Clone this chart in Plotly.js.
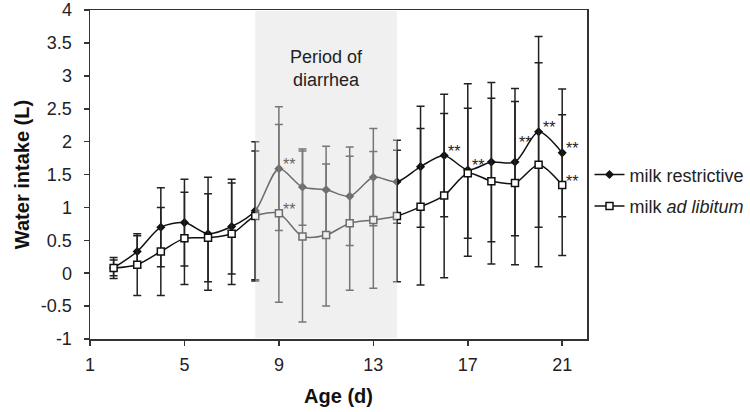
<!DOCTYPE html>
<html>
<head>
<meta charset="utf-8">
<script src="https://cdn.plot.ly/plotly-3.0.1.min.js"></script>
<style>html,body{margin:0;padding:0;background:#fff;}#chart{width:750px;height:412px;}</style>
</head>
<body>
<div id="chart"></div>
<script>
var days = [2,3,4,5,6,7,8,9,10,11,12,13,14,15,16,17,18,19,20,21];
var restrictive = [0.08,0.33,0.70,0.77,0.60,0.71,0.95,1.59,1.31,1.27,1.17,1.46,1.39,1.62,1.79,1.57,1.69,1.69,2.15,1.83];
var restrictiveErr = [0.16,0.24,0.60,0.66,0.86,0.72,1.05,0.94,0.58,0.66,0.75,0.74,0.63,0.92,0.93,1.31,1.21,1.12,1.45,0.97];
var adlib = [0.08,0.13,0.33,0.53,0.54,0.60,0.87,0.91,0.56,0.58,0.76,0.81,0.87,1.01,1.18,1.52,1.40,1.37,1.65,1.34];
var adlibErr = [0.12,0.47,0.67,0.70,0.67,0.77,0.99,1.35,1.30,1.08,1.02,1.04,1.00,1.19,1.25,0.99,1.26,1.24,1.55,1.07];
var seriesNames = ['milk restrictive', 'milk <i>ad libitum</i>'];
var sigRestrictiveDays = [9,16,17,19,20,21];
var sigAdlibDays = [9,21];
var diarrheaStart = 8, diarrheaEnd = 14;
var yTickVals = [-1,-0.5,0,0.5,1,1.5,2,2.5,3,3.5,4];
var yTickText = ['-1','-0.5','0','0.5','1','1.5','2','2.5','3','3.5','4'];
var xTickVals = [1,5,9,13,17,21];

var font = 'Liberation Sans, Arial, sans-serif';

var traces = [
  {
    x: days, y: restrictive, name: seriesNames[0], type: 'scatter', mode: 'lines+markers',
    legendgroup: 'a',
    line: {color: '#111', width: 1.5, shape: 'spline', smoothing: 0.8},
    marker: {symbol: 'diamond', size: 7, color: '#111'},
    error_y: {type: 'data', array: restrictiveErr, visible: true, color: '#222', thickness: 1.5, width: 4}
  },
  {
    x: days, y: adlib, name: seriesNames[1], type: 'scatter', mode: 'lines+markers',
    legendgroup: 'b',
    line: {color: '#111', width: 1.5, shape: 'spline', smoothing: 0.8},
    marker: {symbol: 'square', size: 7, color: '#fff', line: {color: '#111', width: 1.5}},
    error_y: {type: 'data', array: adlibErr, visible: true, color: '#222', thickness: 1.5, width: 4}
  }
];

var annotations = [
  {x: (diarrheaStart + diarrheaEnd) / 2, y: 3.12, xref: 'x', yref: 'y', text: 'Period of<br>diarrhea',
   showarrow: false, font: {family: font, size: 18, color: '#222'}}
];
function addStars(dayList, vals) {
  dayList.forEach(function(d) {
    var i = days.indexOf(d);
    var inside = d >= diarrheaStart && d <= diarrheaEnd;
    annotations.push({
      x: d, y: vals[i], xref: 'x', yref: 'y', text: '**', showarrow: false,
      xanchor: 'left', yanchor: 'middle', xshift: 2, yshift: (d === 19 && vals === restrictive) ? 20 : 4,
      font: {family: font, size: 16, color: inside ? '#666' : '#222'}
    });
  });
}
addStars(sigRestrictiveDays, restrictive);
addStars(sigAdlibDays, adlib);

var layout = {
  width: 750, height: 412,
  margin: {l: 90, r: 163, t: 10, b: 73, autoexpand: false},
  paper_bgcolor: '#fff', plot_bgcolor: '#fff',
  font: {family: font, size: 18, color: '#222'},
  showlegend: true,
  legend: {x: 1.005, xanchor: 'left', y: 0.452, yanchor: 'middle', tracegroupgap: 5,
           traceorder: 'grouped', font: {family: font, size: 18, color: '#222'}, bgcolor: 'rgba(0,0,0,0)'},
  xaxis: {
    range: [1, 22.05], tickvals: xTickVals, ticktext: xTickVals.map(String),
    ticks: 'outside', ticklen: 5, tickwidth: 1.5, tickcolor: '#333',
    showline: true, linecolor: '#333', linewidth: 1.5, mirror: true,
    showgrid: false, zeroline: false, ticklabeloverflow: 'allow', ticklabelstandoff: 4,
    tickfont: {family: font, size: 18, color: '#222'},
    title: {text: '<b>Age (d)</b>', font: {family: font, size: 20, color: '#111'}, standoff: 15}
  },
  yaxis: {
    range: [-1, 4.002], tickvals: yTickVals, ticktext: yTickText,
    ticks: 'outside', ticklen: 5, tickwidth: 1.5, tickcolor: '#333',
    showline: true, linecolor: '#333', linewidth: 1.5, mirror: true,
    showgrid: false, zeroline: false, ticklabeloverflow: 'allow', ticklabelstandoff: 8,
    tickfont: {family: font, size: 18, color: '#222'},
    title: {text: '<b>Water intake (L)</b>', font: {family: font, size: 20, color: '#111'}, standoff: 6}
  },
  shapes: [
    {type: 'rect', xref: 'x', yref: 'paper', x0: diarrheaStart, x1: diarrheaEnd, y0: 0.003, y1: 0.997,
     fillcolor: 'rgba(222,222,222,0.45)', line: {width: 0}, layer: 'above'}
  ],
  annotations: annotations
};

Plotly.newPlot('chart', traces, layout, {displayModeBar: false, staticPlot: true});
</script>
</body>
</html>
